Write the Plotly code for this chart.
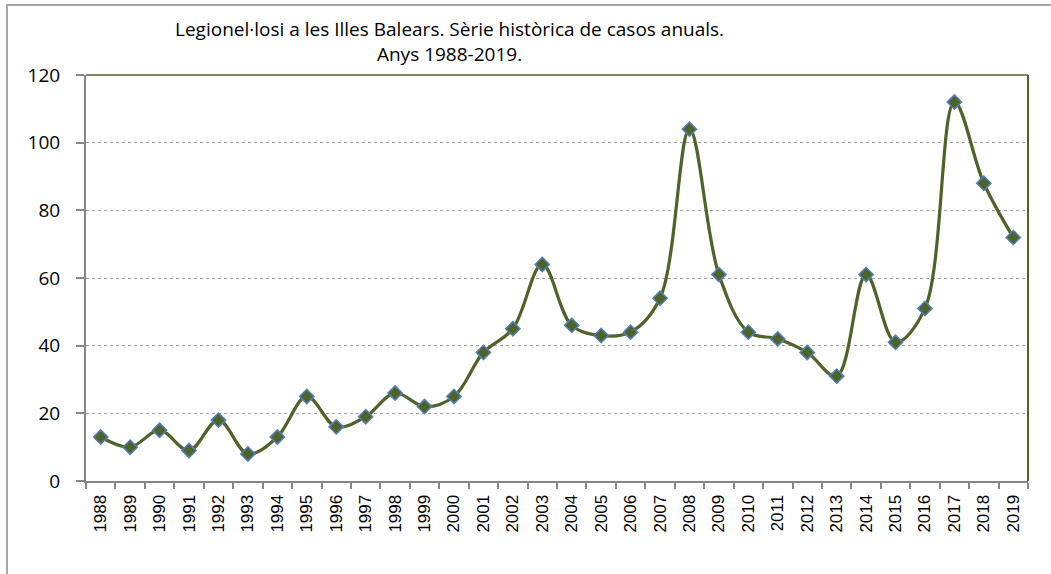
import plotly.graph_objects as go

years = [str(y) for y in range(1988, 2020)]
cases = [13, 10, 15, 9, 18, 8, 13, 25, 16, 19, 26, 22, 25, 38, 45, 64,
         46, 43, 44, 54, 104, 61, 44, 42, 38, 31, 61, 41, 51, 112, 88, 72]
y_ticks = [0, 20, 40, 60, 80, 100, 120]
title_text = ("Legionel·losi a les Illes Balears. Sèrie històrica de casos anuals."
              "<br>Anys 1988-2019.")

OLIVE = "#4F6228"
BLUE = "#4F81BD"
GREY = "#868686"

W, H = 1051, 574
L, R, T, B = 86, 23, 75, 93
PW, PH = W - L - R, H - T - B

fig = go.Figure()
fig.add_trace(go.Scatter(
    x=years, y=cases, mode="lines+markers",
    line=dict(color=OLIVE, width=3.2, shape="spline", smoothing=1),
    marker=dict(symbol="diamond", size=11, color=OLIVE,
                line=dict(color=BLUE, width=1.5)),
    hoverinfo="x+y", showlegend=False,
))

fig.update_layout(
    width=W, height=H,
    margin=dict(l=L, r=R, t=T, b=B),
    paper_bgcolor="white", plot_bgcolor="white",
    xaxis=dict(
        type="category", tickangle=-90, ticks="outside", ticklen=6,
        tickson="boundaries", tickcolor=GREY, tickwidth=1.5,
        ticklabelstandoff=5,
        showgrid=False, showline=True, linecolor=GREY, linewidth=2,
        tickfont=dict(family="Liberation Sans", size=17, color="black"),
        range=[-0.5, len(years) - 0.5],
    ),
    yaxis=dict(
        range=[0, 120], tickvals=y_ticks, ticks="outside", ticklen=8,
        tickcolor=GREY, tickwidth=1.5, ticklabelstandoff=12,
        showgrid=True, gridcolor="#A0A0A0", griddash="dot", gridwidth=1,
        showline=True, linecolor=GREY, linewidth=2,
        zeroline=False,
        tickfont=dict(family="Open Sans", size=19, color="black"),
    ),
)

# title (two centred lines)
fig.add_annotation(text=title_text, xref="paper", yref="paper",
                   x=(449 - L) / PW, y=(H - B - 41.5) / PH,
                   xanchor="center", yanchor="middle", showarrow=False,
                   align="center",
                   font=dict(family="Open Sans", size=19, color="black"))

# plot-area frame (top/right olive)
fig.add_shape(type="line", xref="paper", yref="paper", x0=0, x1=1, y0=1, y1=1,
              line=dict(color=OLIVE, width=1.5), layer="above")
fig.add_shape(type="line", xref="paper", yref="paper", x0=1, x1=1, y0=0, y1=1,
              line=dict(color=OLIVE, width=2), layer="above")
# chart outer border
fig.add_shape(type="rect", xref="paper", yref="paper",
              x0=(7 - L) / PW, x1=1.2, y0=-0.4, y1=(H - B - 5) / PH,
              line=dict(color="#A6A6A6", width=2), layer="below")

fig.write_html("out.html",
               config={"displayModeBar": False},
               post_script="document.body.style.margin='0';")
